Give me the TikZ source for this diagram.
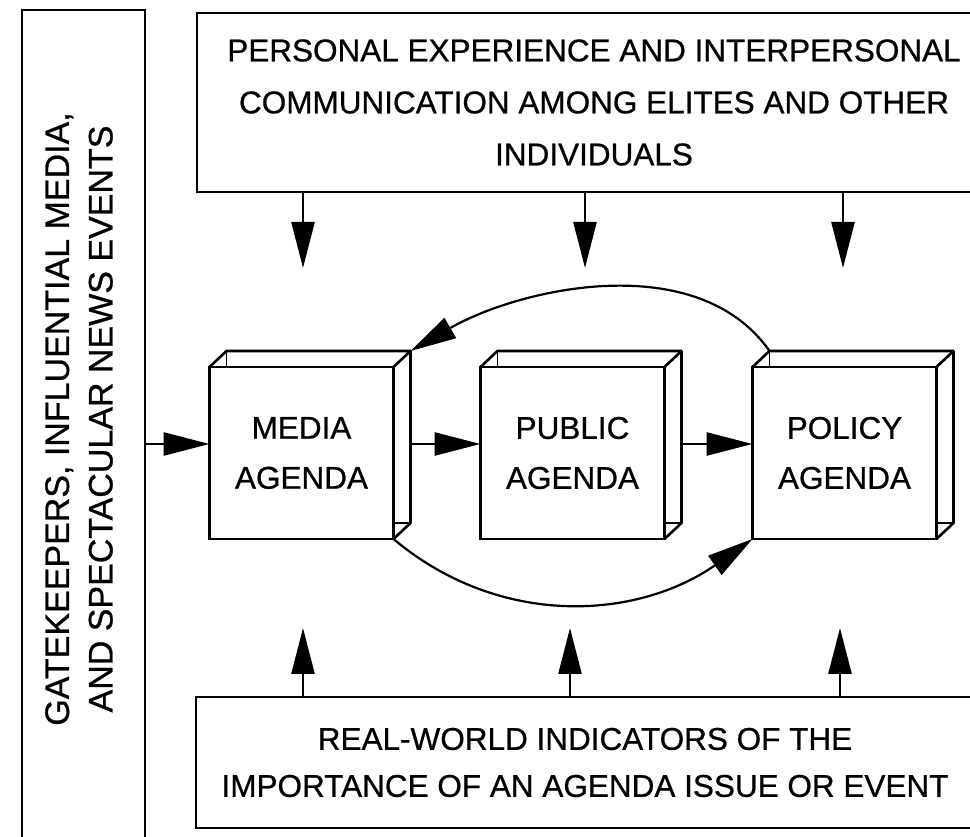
\documentclass[tikz,border=0pt]{standalone}
\usepackage{fontspec}
\setmainfont{Liberation Sans}[FakeBold=0.7]
\usetikzlibrary{arrows.meta,positioning}

\begin{document}
\begin{tikzpicture}[
    x=1pt, y=1pt,
    node distance=87pt,
    frame/.style={rectangle,draw,line width=2.8pt,inner sep=0pt,outer sep=0pt},
    block/.style={frame,align=center,minimum width=184pt,minimum height=172pt,font=\fontsize{31.5}{50}\selectfont},
    wide/.style={frame,align=center},
    depth/.style={draw,line width=2.6pt,line join=round},
    line/.style={draw,line width=2.6pt,-{Triangle[length=46pt,width=23pt]}}]

    \useasboundingbox (0,0) rectangle (970,837);

    % Outer boxes
    \node[frame,minimum width=123pt,minimum height=840pt] (gate) at (83.5,407) {};
    \node[font=\fontsize{34}{43.5}\selectfont,rotate=90,align=center,inner sep=0pt] (gatetext) at (79,418)
        {GATEKEEPERS, INFLUENTIAL MEDIA,\\AND SPECTACULAR NEWS EVENTS};
    \node[wide,minimum width=794pt,minimum height=179pt,font=\fontsize{31.5}{52}\selectfont] (personal) at (594,734.5)
        {PERSONAL EXPERIENCE AND INTERPERSONAL\\COMMUNICATION AMONG ELITES AND OTHER\\INDIVIDUALS};
    \node[wide,minimum width=778pt,minimum height=131pt,font=\fontsize{31.5}{47}\selectfont] (indicators) at (585,74.5)
        {REAL-WORLD INDICATORS OF THE\\IMPORTANCE OF AN AGENDA ISSUE OR EVENT};

    % Agenda boxes
    \node[block] (media) at (301.5,384) {MEDIA\\AGENDA};
    \node[block, right=of media] (public) {PUBLIC\\AGENDA};
    \node[block, right=88pt of public] (policy) {POLICY\\AGENDA};

    % Depth of the agenda boxes
    \foreach \n in {media,public,policy}{
        \path[depth] (\n.north west) -- ++(17,16) -- ([shift={(17,16)}]\n.north east)
            -- ([shift={(17,16)}]\n.south east) -- (\n.south east);
        \path[depth] (\n.north east) -- ++(17,16);
        \path[depth,line width=1.8pt] ([shift={(17,16)}]\n.north west) -- ++(0,-16);
        \path[depth,line width=1.8pt] ([shift={(17,16)}]\n.south east) -- ++(-17,0);
    }

    % Connect agendas
    \coordinate (media-in) at ([yshift=9pt]media.west);
    \path[line] (gate.east |- media-in) -- (media-in);
    \path[line] ([shift={(17,9)}]media.east) -- ([yshift=9pt]public.west);
    \path[line] ([shift={(17,9)}]public.east) -- ([yshift=9pt]policy.west);
    \path[line,line width=2.2pt] ([shift={(17,16)}]policy.north west) to[out=125,in=30,looseness=0.9] ([shift={(17,16)}]media.north east);
    \path[line,line width=2.2pt] (media.south east) to[out=-40,in=-145] (policy.south west);

    % Outside influences
    \foreach \x/\n in {303/1,585/2,843/3}{
        \coordinate (down\n) at (\x,569);
        \path[line] (personal.south -| down\n) -- (down\n);
    }
    \foreach \x/\n in {303/1,570/2,840/3}{
        \coordinate (up\n) at (\x,209);
        \path[line] (indicators.north -| up\n) -- (up\n);
    }
\end{tikzpicture}
\end{document}
